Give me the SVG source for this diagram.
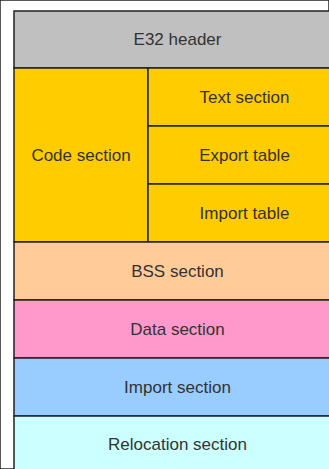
<svg xmlns="http://www.w3.org/2000/svg" width="329" height="469" viewBox="0 0 329 469">
<style>
rect{stroke:#222;stroke-width:1.5}
text{font-family:"Liberation Sans",Arial,sans-serif;font-size:17px;fill:#333;text-anchor:middle}
</style>
<rect x="0" y="0" width="329" height="469" fill="#fff" stroke="none"/>
<g id="header"><rect x="14" y="11" width="327" height="57" fill="#c0c0c0"/><text x="177.5" y="45">E32 header</text></g>
<g id="code"><rect x="14" y="68" width="134" height="174" fill="#ffcc00"/><text x="81" y="161">Code section</text></g>
<g id="text"><rect x="148" y="68" width="193" height="58" fill="#ffcc00"/><text x="244.5" y="103">Text section</text></g>
<g id="export"><rect x="148" y="126" width="193" height="58" fill="#ffcc00"/><text x="244.5" y="161">Export table</text></g>
<g id="importtable"><rect x="148" y="184" width="193" height="58" fill="#ffcc00"/><text x="244.5" y="219">Import table</text></g>
<g id="bss"><rect x="14" y="242" width="327" height="58" fill="#ffcc99"/><text x="177.5" y="277">BSS section</text></g>
<g id="data"><rect x="14" y="300" width="327" height="58" fill="#ff99cc"/><text x="177.5" y="335">Data section</text></g>
<g id="import"><rect x="14" y="358" width="327" height="58" fill="#99ccff"/><text x="177.5" y="393">Import section</text></g>
<g id="reloc"><rect x="14" y="416" width="327" height="60" fill="#ccffff"/><text x="177.5" y="450">Relocation section</text></g>
<g id="connectors"></g>
</svg>
